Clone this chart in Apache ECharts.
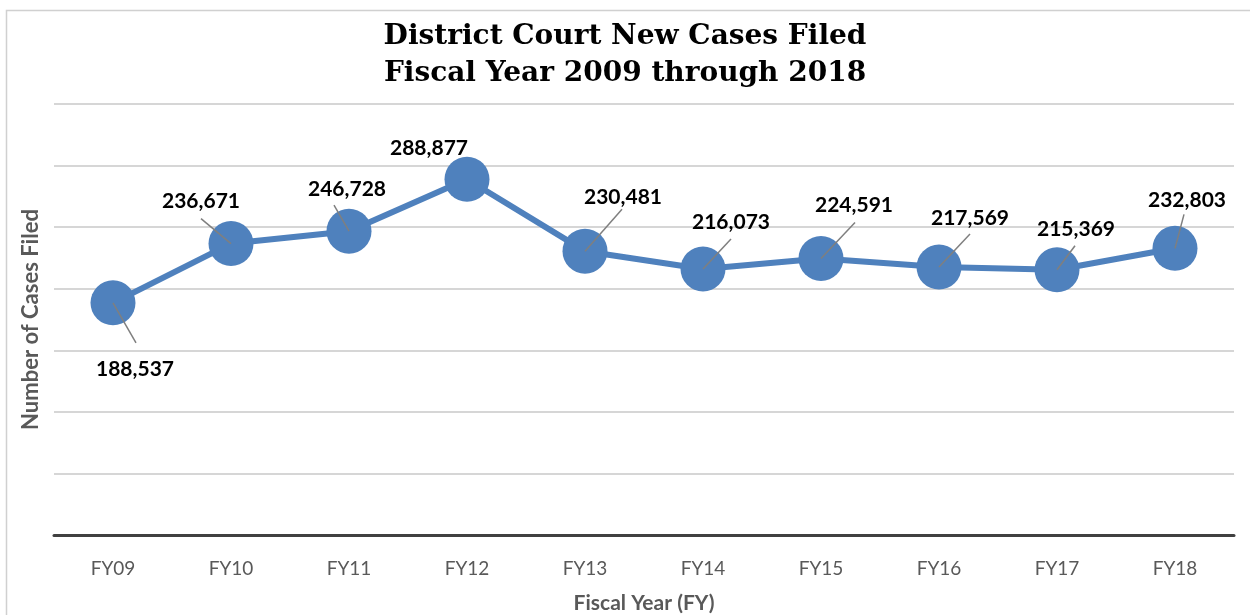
<!DOCTYPE html>
<html>
<head>
<meta charset="utf-8">
<script src="https://cdn.jsdelivr.net/npm/echarts@6/dist/echarts.min.js"></script>
<style>
  html, body { margin: 0; padding: 0; background: #fff; }
  #main { width: 1250px; height: 615px; }
</style>
</head>
<body>
<div id="main"></div>
<script>
// 数据
var years = ['FY09', 'FY10', 'FY11', 'FY12', 'FY13', 'FY14', 'FY15', 'FY16', 'FY17', 'FY18'];
var newCases = [188537, 236671, 246728, 288877, 230481, 216073, 224591, 217569, 215369, 232803];

// 标签相对于点的偏移 (像素)
var labelShift = [
  [22, 66], [-30, -42], [-2, -42], [-38, -31], [38, -54],
  [28, -47], [33, -53], [31, -49], [19, -41], [12, -48]
];
// 引导线终点相对于点的偏移 (像素)
var leaderEnd = [
  [23, 40], [-30, -25], [-15, -26], [0, 0], [37, -42],
  [28, -30], [34, -36], [31, -33], [18, -24], [9, -34]
];

var chart = echarts.init(document.getElementById('main'));

var option = {
  backgroundColor: '#fff',
  animation: false,
  title: {
    text: 'District Court New Cases Filed\nFiscal Year 2009 through 2018',
    left: 'center',
    top: 13,
    textStyle: {
      fontFamily: 'DejaVu Serif',
      fontWeight: 'bold',
      fontSize: 28,
      lineHeight: 37,
      color: '#000'
    }
  },
  graphic: [{
    type: 'rect',
    shape: { x: 6.5, y: 10.5, width: 1260, height: 620 },
    style: { fill: 'none', stroke: '#d0d0d0', lineWidth: 1.5 },
    silent: true
  }],
  grid: { left: 54, right: 16, top: 104, bottom: 80, outerBoundsMode: 'none', containLabel: false },
  xAxis: {
    type: 'category',
    data: years,
    name: 'Fiscal Year (FY)',
    nameLocation: 'middle',
    nameGap: 58,
    nameTextStyle: { fontFamily: 'Lato', fontWeight: 'bold', fontSize: 21, color: '#595959' },
    axisLine: { lineStyle: { color: '#404040', width: 3 } },
    axisTick: { show: false },
    axisLabel: { fontFamily: 'Lato', fontSize: 19, color: '#595959', margin: 24 }
  },
  yAxis: {
    type: 'value',
    min: 0,
    max: 350000,
    interval: 50000,
    name: 'Number of Cases Filed',
    nameLocation: 'middle',
    nameGap: 12,
    nameTextStyle: { fontFamily: 'Lato', fontWeight: 'bold', fontSize: 22, color: '#595959' },
    axisLine: { show: false },
    axisTick: { show: false },
    axisLabel: { show: false },
    splitLine: { lineStyle: { color: '#c8c8c8', width: 1.5 } }
  },
  series: [{
    name: 'New Cases',
    type: 'line',
    data: newCases,
    symbol: 'circle',
    symbolSize: 45,
    itemStyle: { color: '#4f81bd' },
    lineStyle: { color: '#4f81bd', width: 6 },
    label: {
      show: true,
      position: 'inside',
      fontFamily: 'Lato',
      fontWeight: 'bold',
      fontSize: 21,
      color: '#000',
      formatter: function (p) { return p.value.toLocaleString('en-US'); }
    },
    labelLayout: function (p) {
      var s = labelShift[p.dataIndex];
      return { dx: s[0], dy: s[1] };
    },
    z: 3
  }, {
    // 引导线
    name: 'leader',
    type: 'custom',
    data: newCases.map(function (v, i) { return [i, v]; }),
    renderItem: function (params, api) {
      var p = api.coord([api.value(0), api.value(1)]);
      var e = leaderEnd[params.dataIndex];
      return {
        type: 'line',
        shape: { x1: p[0], y1: p[1], x2: p[0] + e[0], y2: p[1] + e[1] },
        style: { stroke: '#7f7f7f', lineWidth: 1.5 }
      };
    },
    silent: true,
    z: 4
  }]
};

chart.setOption(option);
</script>
</body>
</html>
